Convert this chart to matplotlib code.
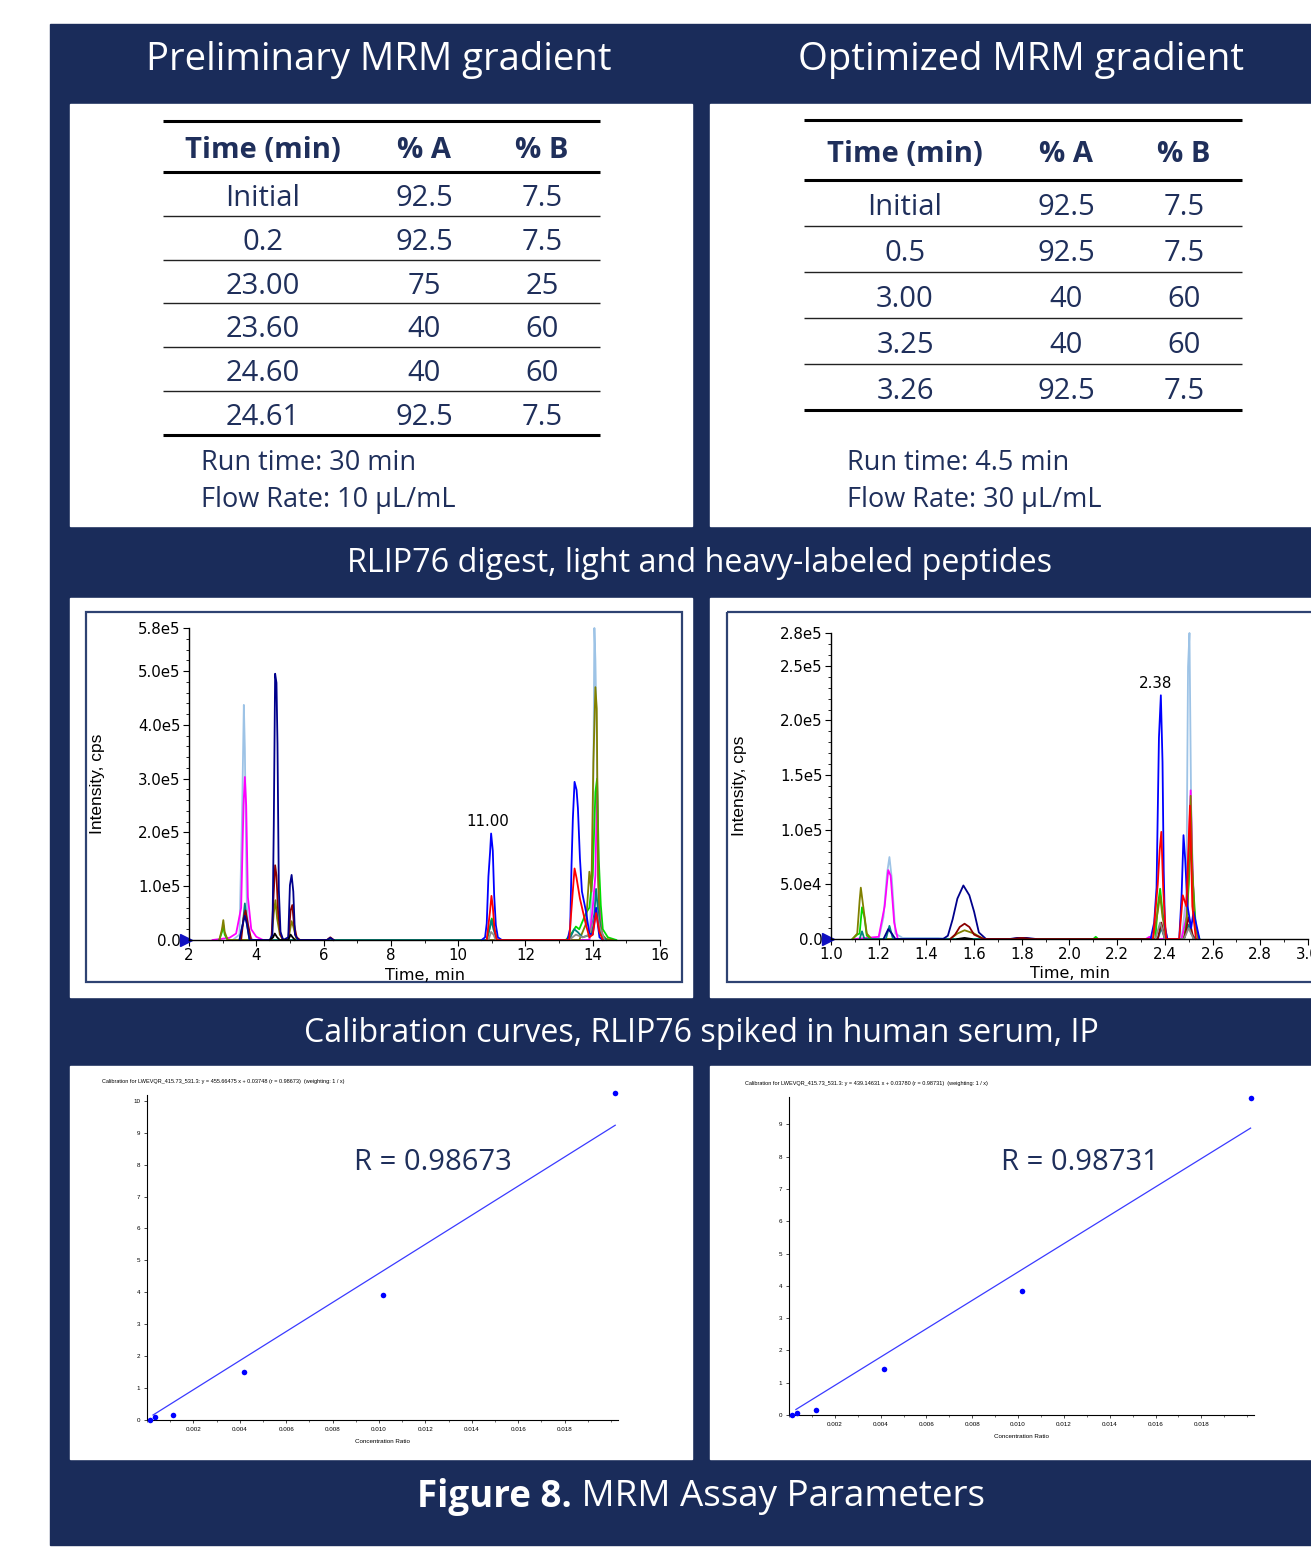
import numpy as np
import matplotlib.pyplot as plt
from matplotlib.patches import Rectangle
from matplotlib.ticker import MultipleLocator, FixedLocator
import matplotlib.transforms as mtransforms

# ---------------- data ----------------
prelim_time = ['Initial', '0.2', '23.00', '23.60', '24.60', '24.61']
prelim_a = ['92.5', '92.5', '75', '40', '40', '92.5']
prelim_b = ['7.5', '7.5', '25', '60', '60', '7.5']
prelim_notes = ['Run time: 30 min', 'Flow Rate: 10 \u00b5L/mL']

opt_time = ['Initial', '0.5', '3.00', '3.25', '3.26']
opt_a = ['92.5', '92.5', '40', '40', '92.5']
opt_b = ['7.5', '7.5', '60', '60', '7.5']
opt_notes = ['Run time: 4.5 min', 'Flow Rate: 30 \u00b5L/mL']

table_header = ['Time (min)', '% A', '% B']

# left chromatogram: time (min), intensity (x1e5 cps)
L_LIGHTBLUE_T = [3.3, 3.5, 3.58, 3.63, 3.66, 3.69, 3.72, 3.78, 3.9, 13.9, 14.0, 14.05, 14.08, 14.12, 14.16, 14.22, 14.3]
L_LIGHTBLUE_I = [0, 0.1, 2.4, 4.37, 3.56, 2.0, 0.6, 0.1, 0, 0, 1.3, 5.8, 5.2, 3.7, 1.2, 0.2, 0]
L_MAGENTA_T = [2.7, 3.2, 3.4, 3.55, 3.62, 3.66, 3.7, 3.75, 3.85, 4.0, 4.2, 13.9, 14.0, 14.08, 14.13, 14.18, 14.25, 14.35]
L_MAGENTA_I = [0, 0.04, 0.12, 0.6, 2.5, 3.03, 2.5, 0.8, 0.2, 0.06, 0, 0, 0.6, 1.2, 2.88, 1.0, 0.2, 0]
L_NAVY_T = [3.5, 3.6, 3.66, 3.72, 3.8, 4.4, 4.48, 4.52, 4.56, 4.6, 4.63, 4.67, 4.72, 4.8, 4.95, 5.0, 5.05, 5.1, 5.15, 5.25, 6.1, 6.2, 6.3]
L_NAVY_I = [0, 0.3, 0.45, 0.3, 0, 0, 0.1, 2.13, 4.95, 4.78, 3.65, 0.93, 0.15, 0, 0.05, 1.02, 1.21, 0.9, 0.1, 0, 0, 0.04, 0]
L_DARKRED_T = [3.55, 3.62, 3.68, 3.75, 3.85, 4.45, 4.52, 4.56, 4.6, 4.65, 4.72, 4.8, 4.95, 5.02, 5.07, 5.12, 5.2, 5.3, 6.1, 6.2, 6.3]
L_DARKRED_I = [0, 0.4, 0.55, 0.3, 0, 0, 0.9, 1.39, 1.2, 0.5, 0.1, 0, 0, 0.55, 0.65, 0.3, 0.05, 0, 0, 0.05, 0]
L_OLIVE_T = [2.9, 2.98, 3.02, 3.06, 3.15, 4.45, 4.52, 4.57, 4.62, 4.7, 4.8, 4.95, 5.05, 5.1, 5.2,
             13.6, 13.8, 13.9, 13.96, 14.02, 14.08, 14.12, 14.16, 14.2, 14.28, 14.4, 14.6]
L_OLIVE_I = [0, 0.2, 0.37, 0.15, 0, 0, 0.5, 0.74, 0.4, 0.1, 0, 0, 0.35, 0.25, 0,
             0, 0.3, 1.27, 0.9, 3.3, 4.7, 4.3, 1.15, 0.4, 0.1, 0.02, 0]
L_GREEN_T = [2.9, 2.98, 3.02, 3.06, 3.15, 10.85, 10.95, 11.0, 11.05, 11.15,
             13.2, 13.4, 13.5, 13.6, 13.7, 13.8, 13.9, 14.0, 14.08, 14.13, 14.18, 14.24, 14.3, 14.45, 14.7]
L_GREEN_I = [0, 0.15, 0.28, 0.1, 0, 0, 0.25, 0.4, 0.3, 0,
             0, 0.15, 0.25, 0.2, 0.35, 0.5, 0.6, 1.2, 2.75, 3.0, 1.5, 0.65, 0.2, 0.05, 0]
L_BLUE_T = [10.7, 10.8, 10.85, 10.9, 10.95, 10.98, 11.03, 11.07, 11.12, 11.18, 11.3,
            13.25, 13.33, 13.37, 13.41, 13.46, 13.52, 13.56, 13.62, 13.68, 13.8, 13.9, 14.0, 14.1, 14.15, 14.2, 14.3]
L_BLUE_I = [0, 0.05, 0.31, 1.18, 1.64, 1.98, 1.66, 0.84, 0.28, 0.05, 0,
            0, 0.22, 1.39, 2.26, 2.94, 2.79, 2.45, 1.52, 0.9, 0.53, 0.12, 0.1, 0.6, 0.3, 0.05, 0]
L_RED_T = [10.85, 10.95, 10.99, 11.03, 11.08, 11.15, 13.3, 13.4, 13.46, 13.52, 13.62, 13.8, 13.9, 14.0, 14.1, 14.2, 14.3]
L_RED_I = [0, 0.55, 0.82, 0.62, 0.2, 0, 0, 0.84, 1.33, 1.15, 0.77, 0.28, 0.05, 0.1, 0.5, 0.15, 0]
L_TEAL_T = [3.5, 3.6, 3.66, 3.72, 3.8, 10.85, 10.95, 10.99, 11.05, 11.15,
            13.3, 13.45, 13.55, 13.7, 13.95, 14.05, 14.1, 14.15, 14.25, 14.4]
L_TEAL_I = [0, 0.3, 0.68, 0.3, 0, 0, 0.25, 0.37, 0.2, 0,
            0, 0.2, 0.15, 0.05, 0.1, 0.5, 0.95, 0.6, 0.1, 0]
L_GRAY_T = [10.9, 10.98, 11.05, 11.12, 13.3, 13.5, 13.7, 13.9, 14.05, 14.12, 14.2, 14.35]
L_GRAY_I = [0, 0.15, 0.1, 0, 0, 0.1, 0.05, 0.1, 0.4, 0.55, 0.25, 0]
L_BLACK_T = [4.4, 4.5, 4.55, 4.62, 4.7, 4.95, 5.02, 5.08, 5.15]
L_BLACK_I = [0, 0.05, 0.12, 0.05, 0, 0, 0.1, 0.05, 0]
L_PEAK = (11.00, 1.98)

# right chromatogram: time (min), intensity (x1e5 cps)
R_LIGHTBLUE_T = [1.2, 1.22, 1.235, 1.245, 1.255, 1.27, 1.3, 1.35, 1.45, 1.5, 2.47, 2.49, 2.497, 2.503, 2.51, 2.52, 2.535]
R_LIGHTBLUE_I = [0, 0.2, 0.6, 0.75, 0.55, 0.05, 0.01, 0.01, 0.01, 0, 0, 0.4, 2.49, 2.8, 1.22, 0.3, 0]
R_MAGENTA_T = [1.1, 1.2, 1.225, 1.24, 1.25, 1.265, 1.28, 2.32, 2.335, 2.35, 2.47, 2.49, 2.5, 2.508, 2.515, 2.525, 2.54]
R_MAGENTA_I = [0, 0.02, 0.3, 0.63, 0.58, 0.15, 0, 0, 0.02, 0, 0, 0.2, 0.8, 1.36, 0.7, 0.15, 0]
R_OLIVE_T = [1.09, 1.11, 1.12, 1.125, 1.135, 1.15, 1.17, 1.5, 1.53, 1.56, 1.6, 1.64,
             2.35, 2.37, 2.38, 2.39, 2.41, 2.48, 2.49, 2.5, 2.508, 2.515, 2.525, 2.54]
R_OLIVE_I = [0, 0.05, 0.35, 0.47, 0.3, 0.05, 0, 0, 0.05, 0.08, 0.05, 0,
             0, 0.25, 0.4, 0.2, 0, 0, 0.1, 0.6, 1.31, 0.64, 0.15, 0]
R_GREEN_T = [1.09, 1.11, 1.12, 1.13, 1.14, 1.15, 1.17, 2.1, 2.11, 2.12,
             2.36, 2.37, 2.38, 2.39, 2.405, 2.48, 2.49, 2.5, 2.508, 2.515, 2.53, 2.545]
R_GREEN_I = [0, 0.04, 0.05, 0.29, 0.2, 0.03, 0, 0, 0.02, 0,
             0, 0.3, 0.46, 0.25, 0, 0, 0.15, 0.5, 0.92, 0.6, 0.1, 0]
R_NAVY_T = [1.22, 1.24, 1.255, 1.27, 1.47, 1.49, 1.51, 1.53, 1.555, 1.58, 1.6, 1.62, 1.65, 1.75, 1.78, 1.82, 1.86]
R_NAVY_I = [0, 0.09, 0.05, 0, 0, 0.03, 0.18, 0.37, 0.49, 0.4, 0.25, 0.06, 0, 0, 0.01, 0.01, 0]
R_DARKRED_T = [1.5, 1.52, 1.54, 1.56, 1.58, 1.6, 1.64, 1.76, 1.8, 1.84, 2.37, 2.385, 2.4, 2.48, 2.5, 2.52]
R_DARKRED_I = [0, 0.04, 0.11, 0.14, 0.11, 0.04, 0, 0, 0.01, 0, 0, 0.15, 0, 0, 0.2, 0]
R_BLUE_T = [2.34, 2.355, 2.365, 2.375, 2.383, 2.39, 2.395, 2.4, 2.41,
            2.46, 2.47, 2.478, 2.485, 2.495, 2.51, 2.52, 2.53, 2.545]
R_BLUE_I = [0, 0.15, 0.47, 1.84, 2.23, 1.62, 0.63, 0.12, 0,
            0, 0.4, 0.95, 0.73, 0.3, 0.1, 0.25, 0.15, 0]
R_RED_T = [2.35, 2.37, 2.378, 2.385, 2.393, 2.405, 2.46, 2.475, 2.49, 2.505, 2.515, 2.53]
R_RED_I = [0, 0.5, 0.81, 0.98, 0.45, 0, 0, 0.4, 0.3, 1.22, 0.3, 0]
R_TEAL_T = [1.12, 1.13, 1.14, 1.23, 1.245, 1.26, 2.37, 2.385, 2.4, 2.48, 2.5, 2.51, 2.53]
R_TEAL_I = [0, 0.07, 0, 0, 0.12, 0, 0, 0.1, 0, 0, 0.13, 0.05, 0]
R_GRAY_T = [2.36, 2.38, 2.39, 2.4, 2.48, 2.5, 2.52]
R_GRAY_I = [0, 0.15, 0.08, 0, 0, 0.1, 0]
R_BLACK_T = [1.53, 1.56, 1.59]
R_BLACK_I = [0, 0.01, 0]
R_PEAK = (2.38, 2.23)

# calibration curves
cal1_x = [0.00013, 0.00035, 0.00114, 0.00416, 0.01016, 0.02018]
cal1_y = [0.0, 0.10, 0.17, 1.49, 3.92, 10.23]
cal1_slope, cal1_icept, cal1_r = 455.66475, 0.03748, 0.98673
cal2_x = [0.00015, 0.00035, 0.00116, 0.00413, 0.01016, 0.02015]
cal2_y = [0.0, 0.07, 0.17, 1.42, 3.85, 9.83]
cal2_slope, cal2_icept, cal2_r = 439.14631, 0.03780, 0.98731

# ---------------- layout ----------------
W, H = 1311, 1553
NAVY = '#1a2c5a'
INK = '#1f2f5b'
SANS = 'Open Sans'

C = {'lightblue': '#9dc3e6', 'magenta': '#ff00ff', 'navy': '#00008b', 'darkred': '#8b0000',
     'olive': '#808000', 'green': '#00dd00', 'blue': '#0000ff', 'red': '#ff0000',
     'teal': '#008080', 'gray': '#8c8c8c', 'black': '#000000'}

fig = plt.figure(figsize=(W / 100, H / 100), dpi=100)
bg = fig.add_axes([0, 0, 1, 1])
bg.set_xlim(0, W)
bg.set_ylim(H, 0)
bg.axis('off')


def px_axes(x0, y0, x1, y1):
    return fig.add_axes([x0 / W, 1 - y1 / H, (x1 - x0) / W, (y1 - y0) / H])


bg.add_patch(Rectangle((50, 24), W - 50, 1521, color=NAVY))
for (x0, y0, x1, y1) in [(70, 104, 692, 526), (710, 104, W + 5, 526),
                         (70, 598, 692, 997), (710, 598, W + 5, 997),
                         (70, 1066, 692, 1459), (710, 1066, W + 5, 1459)]:
    bg.add_patch(Rectangle((x0, y0), x1 - x0, y1 - y0, color='white'))

# headings
for x, y, s, fs in [(379, 60, 'Preliminary MRM gradient', 27.5),
                    (1021, 60, 'Optimized MRM gradient', 27.5),
                    (700, 564, 'RLIP76 digest, light and heavy-labeled peptides', 23.3),
                    (701, 1034, 'Calibration curves, RLIP76 spiked in human serum, IP', 23.1)]:
    bg.text(x, y, s, ha='center', va='center', color='white', fontsize=fs, family=SANS)


def draw_table(x0, x1, colx, top, head_line, pitch, cols, notes, note_x):
    n = len(cols[0])
    bottom = head_line + pitch * n
    bg.plot([x0, x1], [top, top], color='black', lw=2.2, solid_capstyle='butt')
    bg.plot([x0, x1], [head_line, head_line], color='black', lw=2.2, solid_capstyle='butt')
    bg.plot([x0, x1], [bottom, bottom], color='black', lw=2.2, solid_capstyle='butt')
    for i in range(1, n):
        yy = head_line + pitch * i
        bg.plot([x0, x1], [yy, yy], color='#222222', lw=1.0, solid_capstyle='butt')
    hy = (top + head_line) / 2 + 12
    for cx, h in zip(colx, table_header):
        bg.text(cx, hy, h, ha='center', va='baseline', color=INK, fontsize=21,
                fontweight='bold', family=SANS)
    for cx, col in zip(colx, cols):
        for i, v in enumerate(col):
            bg.text(cx, head_line + pitch * (i + 0.5) + 12, v, ha='center', va='baseline',
                    color=INK, fontsize=21, family=SANS)
    for j, s in enumerate(notes):
        bg.text(note_x, 470 + 37 * j, s, ha='left', va='baseline', color=INK, fontsize=19.5,
                family=SANS)


draw_table(163, 600, [263, 424, 542], 121, 172, 43.8, [prelim_time, prelim_a, prelim_b],
           prelim_notes, 201)
draw_table(804, 1242, [905, 1066, 1184], 120, 180, 46.0, [opt_time, opt_a, opt_b],
           opt_notes, 847)

# caption with bold lead
cap1 = bg.text(0, 1497, 'Figure 8.', ha='left', va='center', color='white', fontsize=26.5,
               fontweight='bold', family=SANS)
cap2 = bg.text(0, 1497, ' MRM Assay Parameters', ha='left', va='center', color='white',
               fontsize=26.5, family=SANS)
fig.canvas.draw()
r = fig.canvas.get_renderer()
w1 = cap1.get_window_extent(r).width
w2 = cap2.get_window_extent(r).width
xs = 701 - (w1 + w2) / 2
cap1.set_x(xs)
cap2.set_x(xs + w1)

# ---------------- chromatograms ----------------
TICKFONT = 'DejaVu Sans'


def chromatogram(box, frame, traces, xlim, xstep, xminor, xfmt, yticks, ylabels, yminor, peak,
                 ylabel_x):
    bg.add_patch(Rectangle((frame[0], frame[1]), frame[2] - frame[0], frame[3] - frame[1],
                           fill=False, edgecolor='#2e4272', lw=1.6))
    ax = px_axes(*box)
    for name, t, i in traces:
        ax.plot(t, np.array(i) * 1e5, color=C[name], lw=1.3, clip_on=False)
    ax.set_xlim(*xlim)
    ax.set_ylim(0, yticks[-1])
    ax.spines['top'].set_visible(False)
    ax.spines['right'].set_visible(False)
    for s in ('left', 'bottom'):
        ax.spines[s].set_linewidth(1.0)
    xt = np.arange(xlim[0], xlim[1] + xstep / 2, xstep)
    ax.set_xticks(xt)
    ax.set_xticklabels([xfmt.format(v) for v in xt])
    ax.xaxis.set_minor_locator(MultipleLocator(xminor))
    ax.set_yticks(yticks)
    ax.set_yticklabels(ylabels)
    ax.yaxis.set_minor_locator(MultipleLocator(yminor))
    ax.tick_params(which='major', length=4, width=0.8, labelsize=10.8, pad=2)
    ax.tick_params(which='minor', length=2.5, width=0.6)
    for lab in ax.get_xticklabels() + ax.get_yticklabels():
        lab.set_family(TICKFONT)
    ax.set_xlabel('Time, min', fontsize=11.5, family=TICKFONT, labelpad=3)
    ax.set_ylabel('Intensity, cps', fontsize=12.5, family='Liberation Sans')
    ax.yaxis.set_label_coords((ylabel_x - box[0]) / (box[2] - box[0]), 0.5)
    ax.patch.set_alpha(0)
    ax.annotate('{:.2f}'.format(peak[0]), xy=(peak[0], peak[1] * 1e5), xytext=(-3, 3),
                textcoords='offset points', ha='center', va='bottom', fontsize=10.8,
                family=TICKFONT)
    tr = mtransforms.offset_copy(ax.transAxes, fig=fig, x=-3, y=0, units='dots')
    ax.plot([0], [0], marker='>', color='#1010c0', markersize=9, transform=tr, clip_on=False)
    return ax


left_traces = [('lightblue', L_LIGHTBLUE_T, L_LIGHTBLUE_I), ('magenta', L_MAGENTA_T, L_MAGENTA_I),
               ('green', L_GREEN_T, L_GREEN_I), ('olive', L_OLIVE_T, L_OLIVE_I),
               ('teal', L_TEAL_T, L_TEAL_I), ('darkred', L_DARKRED_T, L_DARKRED_I),
               ('navy', L_NAVY_T, L_NAVY_I), ('black', L_BLACK_T, L_BLACK_I),
               ('gray', L_GRAY_T, L_GRAY_I), ('blue', L_BLUE_T, L_BLUE_I),
               ('red', L_RED_T, L_RED_I)]
right_traces = [('lightblue', R_LIGHTBLUE_T, R_LIGHTBLUE_I), ('magenta', R_MAGENTA_T, R_MAGENTA_I),
                ('green', R_GREEN_T, R_GREEN_I), ('olive', R_OLIVE_T, R_OLIVE_I),
                ('teal', R_TEAL_T, R_TEAL_I), ('navy', R_NAVY_T, R_NAVY_I),
                ('darkred', R_DARKRED_T, R_DARKRED_I), ('black', R_BLACK_T, R_BLACK_I),
                ('gray', R_GRAY_T, R_GRAY_I), ('blue', R_BLUE_T, R_BLUE_I),
                ('red', R_RED_T, R_RED_I)]

chromatogram((189, 628, 660, 940), (86, 612, 682, 982), left_traces, (2, 16), 2, 1, '{:.0f}',
             [0, 1e5, 2e5, 3e5, 4e5, 5e5, 5.8e5],
             ['0.0', '1.0e5', '2.0e5', '3.0e5', '4.0e5', '5.0e5', '5.8e5'], 2e4, L_PEAK, 105)
chromatogram((831, 633, 1308, 939), (727, 612, W + 20, 982), right_traces, (1.0, 3.0), 0.2, 0.1,
             '{:.1f}', [0, 5e4, 1e5, 1.5e5, 2e5, 2.5e5, 2.8e5],
             ['0.0', '5.0e4', '1.0e5', '1.5e5', '2.0e5', '2.5e5', '2.8e5'], 1e4, R_PEAK, 747)

# ---------------- calibration curves ----------------
TINY = ['Liberation Sans Narrow', 'Liberation Sans']


def calibration(box, x, y, slope, icept, rval, xmax, ymax, ymaxtick, title_xy, r_xy):
    ax = px_axes(*box)
    xs = np.array([x[0] * 2, x[-1]])
    ax.plot(xs, slope * xs + icept, color='#3a3aff', lw=0.9)
    ax.scatter(x, y, s=16, color='#0000ff', zorder=3, clip_on=False, linewidths=0)
    ax.set_xlim(0, xmax)
    ax.set_ylim(0, ymax)
    ax.spines['top'].set_visible(False)
    ax.spines['right'].set_visible(False)
    for s in ('left', 'bottom'):
        ax.spines[s].set_linewidth(0.8)
    xt = np.arange(0.002, 0.0185, 0.002)
    ax.xaxis.set_major_locator(FixedLocator(xt))
    ax.set_xticklabels(['{:.3f}'.format(v) for v in xt])
    ax.xaxis.set_minor_locator(MultipleLocator(0.001))
    ax.set_yticks(np.arange(0, ymaxtick + 1))
    ax.tick_params(which='major', length=2, width=0.5, labelsize=4.5, pad=3)
    ax.tick_params(which='minor', length=1.5, width=0.4)
    for lab in ax.get_xticklabels() + ax.get_yticklabels():
        lab.set_family(TINY)
    ax.set_xlabel('Concentration Ratio', fontsize=4.5, family=TINY, labelpad=5)
    ax.patch.set_alpha(0)
    bg.text(title_xy[0], title_xy[1],
            'Calibration for LWEVQR_415.73_531.3: y = {:.5f} x + {:.5f} (r = {:.5f})  '
            '(weighting: 1 / x)'.format(slope, icept, rval),
            ha='left', va='center', fontsize=4, family=TINY)
    bg.text(r_xy[0], r_xy[1], 'R = {:.5f}'.format(rval), ha='center', va='center',
            color=INK, fontsize=21, family=SANS)


calibration((147, 1095, 618, 1420), cal1_x, cal1_y, cal1_slope, cal1_icept, cal1_r,
            0.0203, 10.18, 10, (102, 1081), (433, 1163))
calibration((789, 1097, 1254, 1415), cal2_x, cal2_y, cal2_slope, cal2_icept, cal2_r,
            0.0203, 9.85, 9, (745, 1083), (1080, 1163))

fig.savefig('out.png', dpi=100)
